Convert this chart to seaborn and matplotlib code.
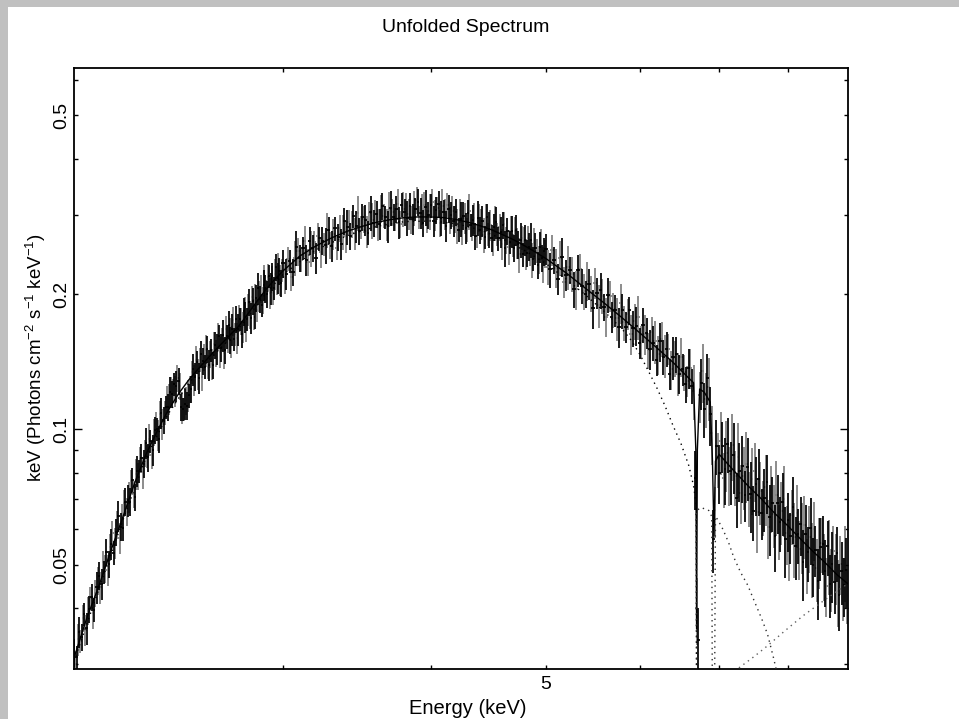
import numpy as np
import pandas as pd
import matplotlib
matplotlib.use("Agg")
import matplotlib.pyplot as plt
import seaborn as sns
from matplotlib.patches import Rectangle
from matplotlib.ticker import FixedLocator, NullFormatter, FuncFormatter

# ---------------- data ----------------
# spectrum 1 (black), three energy ranges
energy_a = [2.00, 2.01, 2.02, 2.03, 2.04, 2.05, 2.06, 2.07, 2.08, 2.09,
            2.10, 2.11, 2.12, 2.13, 2.14, 2.15, 2.16, 2.17, 2.18, 2.19,
            2.20, 2.21, 2.22, 2.23, 2.24, 2.25, 2.26, 2.27, 2.28, 2.29,
            2.30, 2.31, 2.32, 2.33, 2.34, 2.35, 2.36, 2.37, 2.38, 2.39,
            2.40, 2.41, 2.42, 2.43, 2.44, 2.45, 2.46, 2.47, 2.48, 2.49,
            2.50, 2.51, 2.52, 2.53, 2.54, 2.55, 2.56, 2.57, 2.58, 2.59,
            2.60, 2.61, 2.62, 2.63, 2.64, 2.65, 2.66, 2.67, 2.68, 2.69,
            2.70, 2.71, 2.72, 2.73, 2.74, 2.75, 2.76, 2.77, 2.78, 2.79,
            2.80, 2.81, 2.82, 2.83, 2.84, 2.85, 2.86, 2.87, 2.88, 2.89,
            2.90, 2.91, 2.92, 2.93, 2.94, 2.95, 2.96, 2.97, 2.98, 2.99]
flux_a = [.0319, .0311, .0355, .0345, .0388, .0361, .0398, .0424, .0397, .0445,
          .0473, .0454, .0481, .0534, .0501, .0556, .0532, .0592, .0642, .0608,
          .0602, .0691, .0695, .0691, .0773, .0707, .0808, .0808, .0865, .0839,
          .0933, .0866, .0942, .0899, .0997, .100, .0951, .109, .105, .112,
          .112, .121, .120, .126, .125, .128, .112, .111, .114, .113,
          .119, .123, .136, .131, .141, .130, .147, .142, .138, .151,
          .139, .150, .139, .154, .151, .161, .152, .162, .150, .161,
          .171, .158, .167, .159, .176, .167, .176, .163, .183, .178,
          .176, .192, .177, .193, .178, .196, .206, .195, .189, .210,
          .206, .200, .219, .206, .219, .206, .230, .217, .225, .212]
err_a = [7, 6, 8, 7, 6, 8, 7, 7, 6, 8, 7, 8, 6, 7, 7, 8, 6, 7, 8, 7,
         6, 7, 8, 7, 6, 7, 8, 6, 7, 7, 8, 7, 6, 8, 7, 6, 7, 8, 7, 6,
         7, 8, 7, 6, 8, 7, 7, 6, 8, 7, 6, 7, 8, 7, 6, 8, 7, 7, 6, 7,
         8, 6, 7, 7, 8, 6, 7, 8, 7, 6, 7, 7, 8, 6, 7, 8, 6, 7, 7, 8,
         6, 7, 8, 7, 6, 7, 8, 7, 6, 8, 7, 7, 6, 8, 7, 6, 7, 8, 7, 7]

energy_b = [3.00, 3.02, 3.04, 3.06, 3.08, 3.10, 3.12, 3.14, 3.16, 3.18,
            3.20, 3.22, 3.24, 3.26, 3.28, 3.30, 3.32, 3.34, 3.36, 3.38,
            3.40, 3.42, 3.44, 3.46, 3.48, 3.50, 3.52, 3.54, 3.56, 3.58,
            3.60, 3.62, 3.64, 3.66, 3.68, 3.70, 3.72, 3.74, 3.76, 3.78,
            3.80, 3.82, 3.84, 3.86, 3.88, 3.90, 3.92, 3.94, 3.96, 3.98,
            4.00, 4.02, 4.04, 4.06, 4.08, 4.10, 4.12, 4.14, 4.16, 4.18,
            4.20, 4.22, 4.24, 4.26, 4.28, 4.30, 4.32, 4.34, 4.36, 4.38,
            4.40, 4.42, 4.44, 4.46, 4.48, 4.50, 4.52, 4.54, 4.56, 4.58,
            4.60, 4.62, 4.64, 4.66, 4.68, 4.70, 4.72, 4.74, 4.76, 4.78,
            4.80, 4.82, 4.84, 4.86, 4.88, 4.90, 4.92, 4.94, 4.96, 4.98]
flux_b = [.234, .222, .237, .224, .254, .241, .253, .238, .263, .253,
          .241, .266, .263, .257, .278, .256, .280, .268, .259, .291,
          .282, .269, .298, .283, .276, .297, .293, .274, .304, .288,
          .301, .287, .314, .297, .283, .311, .297, .309, .289, .316,
          .305, .296, .314, .294, .309, .321, .303, .288, .312, .300,
          .315, .291, .308, .317, .296, .305, .284, .310, .300, .291,
          .305, .278, .294, .299, .281, .303, .285, .293, .269, .296,
          .278, .291, .268, .297, .279, .267, .282, .289, .266, .275,
          .285, .253, .276, .261, .276, .253, .278, .258, .264, .245,
          .264, .247, .255, .264, .240, .253, .232, .255, .241, .249]
err_b = [7, 8, 6, 7, 9, 7, 6, 8, 7, 7, 8, 6, 7, 9, 7, 8, 6, 7, 8, 7,
         9, 7, 6, 8, 7, 7, 8, 6, 9, 7, 7, 8, 7, 6, 8, 9, 7, 7, 8, 6,
         7, 9, 7, 8, 6, 7, 8, 7, 9, 7, 6, 8, 7, 7, 9, 6, 8, 7, 7, 8,
         7, 6, 9, 7, 8, 7, 6, 8, 7, 9, 7, 8, 6, 7, 9, 7, 7, 8, 6, 8,
         7, 9, 7, 6, 8, 7, 8, 7, 9, 6, 8, 7, 7, 9, 6, 8, 7, 8, 7, 7]

energy_c = [5.00, 5.04, 5.08, 5.12, 5.16, 5.20, 5.24, 5.28, 5.32, 5.36,
            5.40, 5.44, 5.48, 5.52, 5.56, 5.60, 5.64, 5.68, 5.72, 5.76,
            5.80, 5.84, 5.88, 5.92, 5.96, 6.00, 6.04, 6.08, 6.12, 6.16,
            6.20, 6.24, 6.28, 6.32, 6.36, 6.40, 6.44, 6.48, 6.52, 6.56,
            6.60, 6.64, 6.68, 6.72, 6.76, 6.80, 6.84, 6.88, 6.92, 6.96,
            7.00, 7.04, 7.08, 7.12, 7.16, 7.20, 7.24, 7.28, 7.32, 7.36,
            7.40, 7.44, 7.48, 7.52, 7.56, 7.60, 7.64, 7.68, 7.72, 7.76,
            7.80, 7.84, 7.88, 7.92, 7.96, 8.00, 8.04, 8.08, 8.12, 8.16,
            8.20, 8.24, 8.28, 8.32, 8.36, 8.40, 8.44, 8.48, 8.52, 8.56,
            8.60, 8.64, 8.68, 8.72, 8.76, 8.80, 8.84, 8.88, 8.92, 8.96]
flux_c = [.252, .227, .238, .216, .242, .221, .226, .205, .226, .209,
          .200, .211, .186, .201, .204, .187, .199, .178, .184, .169,
          .184, .169, .184, .168, .170, .156, .171, .164, .151, .156,
          .143, .157, .145, .151, .133, .145, .147, .133, .136, .126,
          .137, .125, .078, .034, .127, .111, .130, .108, .057, .092,
          .0801, .0918, .0818, .0930, .0808, .0875, .0702, .0810, .0828, .0716,
          .0825, .0718, .0657, .0756, .0774, .0651, .0704, .0762, .0637, .0686,
          .0579, .0687, .0621, .0689, .0569, .0628, .0578, .0671, .0551, .0584,
          .0616, .0507, .0584, .0533, .0602, .0498, .0540, .0460, .0548, .0557,
          .0485, .0549, .0454, .0502, .0457, .0532, .0428, .0484, .0451, .0487]
err_c = [8, 9, 7, 8, 10, 8, 7, 9, 8, 9, 7, 8, 10, 8, 9, 7, 9, 8, 8, 10,
         9, 8, 7, 9, 10, 8, 9, 8, 10, 9, 8, 10, 9, 9, 8, 11, 9, 10, 8, 9,
         10, 9, 15, 18, 13, 14, 13, 15, 16, 14,
         15, 13, 17, 14, 16, 18, 14, 15, 17, 13, 16, 18, 14, 15, 17, 13, 16, 15, 18, 14,
         17, 15, 14, 16, 18, 15, 13, 17, 16, 14, 15, 18, 16, 14, 17, 15, 13, 18, 16, 15,
         17, 14, 16, 18, 15, 14, 17, 16, 15, 18]

# spectrum 2 (grey), interleaved bins
energy_a2 = [2.005, 2.015, 2.025, 2.035, 2.045, 2.055, 2.065, 2.075, 2.085, 2.095,
             2.105, 2.115, 2.125, 2.135, 2.145, 2.155, 2.165, 2.175, 2.185, 2.195,
             2.205, 2.215, 2.225, 2.235, 2.245, 2.255, 2.265, 2.275, 2.285, 2.295,
             2.305, 2.315, 2.325, 2.335, 2.345, 2.355, 2.365, 2.375, 2.385, 2.395,
             2.405, 2.415, 2.425, 2.435, 2.445, 2.455, 2.465, 2.475, 2.485, 2.495,
             2.505, 2.515, 2.525, 2.535, 2.545, 2.555, 2.565, 2.575, 2.585, 2.595,
             2.605, 2.615, 2.625, 2.635, 2.645, 2.655, 2.665, 2.675, 2.685, 2.695,
             2.705, 2.715, 2.725, 2.735, 2.745, 2.755, 2.765, 2.775, 2.785, 2.795,
             2.805, 2.815, 2.825, 2.835, 2.845, 2.855, 2.865, 2.875, 2.885, 2.895,
             2.905, 2.915, 2.925, 2.935, 2.945, 2.955, 2.965, 2.975, 2.985, 2.995]
flux_a2 = [.0301, .0341, .0338, .0381, .0358, .0395, .0421, .0390, .0433, .0461,
           .0445, .0506, .0490, .0487, .0547, .0589, .0559, .0614, .0573, .0643,
           .0685, .0656, .0707, .0767, .0718, .0795, .0788, .0861, .0802, .0885,
           .0873, .0950, .0879, .0986, .103, .0971, .108, .103, .109, .117,
           .117, .122, .122, .122, .130, .125, .112, .111, .116, .119,
           .123, .134, .129, .143, .133, .143, .131, .145, .150, .138,
           .147, .140, .155, .148, .161, .149, .159, .148, .167, .159,
           .167, .157, .175, .163, .160, .177, .174, .169, .186, .168,
           .185, .180, .197, .181, .197, .184, .198, .206, .194, .215,
           .203, .218, .201, .216, .201, .222, .214, .231, .215, .226]
err_a2 = [7, 8, 6, 7, 8, 7, 6, 8, 7, 7, 8, 6, 7, 8, 7, 6, 8, 7, 8, 6,
          7, 7, 8, 6, 7, 8, 7, 6, 8, 7, 6, 8, 7, 7, 6, 8, 7, 8, 6, 7,
          8, 7, 6, 8, 7, 7, 8, 6, 7, 8, 7, 6, 8, 7, 8, 6, 7, 7, 8, 6,
          7, 8, 6, 7, 7, 8, 6, 8, 7, 7, 6, 8, 7, 6, 8, 7, 7, 8, 6, 7,
          8, 7, 6, 8, 7, 6, 8, 7, 7, 8, 6, 7, 8, 7, 6, 8, 7, 7, 8, 6]

energy_b2 = [3.01, 3.03, 3.05, 3.07, 3.09, 3.11, 3.13, 3.15, 3.17, 3.19,
             3.21, 3.23, 3.25, 3.27, 3.29, 3.31, 3.33, 3.35, 3.37, 3.39,
             3.41, 3.43, 3.45, 3.47, 3.49, 3.51, 3.53, 3.55, 3.57, 3.59,
             3.61, 3.63, 3.65, 3.67, 3.69, 3.71, 3.73, 3.75, 3.77, 3.79,
             3.81, 3.83, 3.85, 3.87, 3.89, 3.91, 3.93, 3.95, 3.97, 3.99,
             4.01, 4.03, 4.05, 4.07, 4.09, 4.11, 4.13, 4.15, 4.17, 4.19,
             4.21, 4.23, 4.25, 4.27, 4.29, 4.31, 4.33, 4.35, 4.37, 4.39,
             4.41, 4.43, 4.45, 4.47, 4.49, 4.51, 4.53, 4.55, 4.57, 4.59,
             4.61, 4.63, 4.65, 4.67, 4.69, 4.71, 4.73, 4.75, 4.77, 4.79,
             4.81, 4.83, 4.85, 4.87, 4.89, 4.91, 4.93, 4.95, 4.97, 4.99]
flux_b2 = [.218, .240, .218, .241, .249, .238, .263, .236, .253, .261,
           .269, .248, .258, .278, .257, .272, .253, .281, .275, .269,
           .290, .286, .273, .303, .282, .294, .276, .303, .292, .302,
           .286, .310, .299, .286, .310, .305, .294, .318, .286, .310,
           .317, .302, .293, .311, .324, .297, .309, .315, .291, .306,
           .321, .300, .311, .288, .314, .302, .316, .292, .306, .294,
           .284, .307, .277, .296, .278, .306, .282, .296, .269, .296,
           .287, .271, .296, .272, .285, .261, .288, .272, .282, .259,
           .287, .264, .255, .277, .257, .277, .260, .245, .267, .263,
           .246, .267, .248, .239, .260, .250, .239, .259, .233, .246]
err_b2 = [8, 6, 7, 9, 7, 6, 8, 7, 9, 6, 7, 8, 6, 9, 7, 8, 6, 7, 9, 8,
          6, 7, 8, 9, 6, 7, 8, 6, 9, 7, 8, 7, 6, 8, 9, 7, 6, 8, 7, 9,
          6, 8, 7, 9, 7, 6, 8, 7, 6, 9, 7, 8, 6, 7, 9, 8, 6, 7, 8, 7,
          9, 6, 7, 8, 6, 9, 7, 8, 6, 7, 8, 9, 7, 6, 8, 7, 9, 6, 7, 8,
          6, 7, 9, 8, 6, 7, 8, 9, 6, 7, 8, 6, 7, 9, 8, 6, 7, 8, 9, 7]

energy_c2 = [5.02, 5.06, 5.10, 5.14, 5.18, 5.22, 5.26, 5.30, 5.34, 5.38,
             5.42, 5.46, 5.50, 5.54, 5.58, 5.62, 5.66, 5.70, 5.74, 5.78,
             5.82, 5.86, 5.90, 5.94, 5.98, 6.02, 6.06, 6.10, 6.14, 6.18,
             6.22, 6.26, 6.30, 6.34, 6.38, 6.42, 6.46, 6.50, 6.54, 6.58,
             6.62, 6.66, 6.70, 6.74, 6.78, 6.82, 6.86, 6.90, 6.94, 6.98,
             7.02, 7.06, 7.10, 7.14, 7.18, 7.22, 7.26, 7.30, 7.34, 7.38,
             7.42, 7.46, 7.50, 7.54, 7.58, 7.62, 7.66, 7.70, 7.74, 7.78,
             7.82, 7.86, 7.90, 7.94, 7.98, 8.02, 8.06, 8.10, 8.14, 8.18,
             8.22, 8.26, 8.30, 8.34, 8.38, 8.42, 8.46, 8.50, 8.54, 8.58,
             8.62, 8.66, 8.70, 8.74, 8.78, 8.82, 8.86, 8.90, 8.94, 8.98]
flux_c2 = [.230, .251, .229, .241, .213, .230, .222, .205, .228, .203,
           .214, .201, .212, .189, .198, .178, .198, .185, .177, .191,
           .173, .181, .163, .174, .178, .157, .163, .150, .165, .157,
           .147, .159, .146, .151, .136, .144, .133, .145, .134, .128,
           .137, .122, .040, .119, .135, .117, .124, .098, .066, .086,
           .0942, .0779, .0886, .0796, .0923, .0786, .0870, .0723, .0789, .0838,
           .0705, .0777, .0810, .0655, .0731, .0672, .0745, .0605, .0710, .0647,
           .0715, .0597, .0659, .0701, .0587, .0555, .0644, .0576, .0650, .0543,
           .0581, .0614, .0500, .0576, .0520, .0599, .0492, .0539, .0558, .0501,
           .0449, .0529, .0468, .0536, .0495, .0437, .0503, .0446, .0511, .0428]
err_c2 = [9, 8, 10, 9, 8, 11, 9, 10, 8, 9, 10, 9, 8, 11, 9, 10, 8, 9, 11, 10,
          9, 8, 10, 9, 11, 8, 10, 9, 8, 11, 10, 9, 11, 8, 10, 9, 11, 10, 9, 8,
          10, 14, 17, 13, 15, 14, 16, 15, 13, 14,
          16, 14, 18, 15, 17, 14, 19, 15, 16, 18, 14, 17, 15, 19, 16, 14, 18, 15, 17, 16,
          19, 14, 16, 18, 15, 17, 14, 19, 16, 15, 18, 16, 14, 17, 19, 15, 16, 18, 14, 17,
          15, 19, 16, 14, 18, 17, 15, 16, 19, 14]

# total model (solid line)
model_E = [2.00, 2.05, 2.10, 2.15, 2.20, 2.25, 2.30, 2.35, 2.40, 2.45,
           2.50, 2.55, 2.60, 2.65, 2.70, 2.75, 2.80, 2.85, 2.90, 2.95,
           3.00, 3.10, 3.20, 3.30, 3.40, 3.50, 3.60, 3.70, 3.80, 3.90,
           4.00, 4.10, 4.20, 4.30, 4.40, 4.50, 4.60, 4.70, 4.80, 4.90,
           5.00, 5.20, 5.40, 5.60, 5.80, 6.00, 6.20, 6.40, 6.60, 6.66,
           6.69, 6.70, 6.71, 6.74, 6.80, 6.88, 6.91, 6.93, 6.95, 7.00,
           7.20, 7.40, 7.60, 7.80, 8.00, 8.20, 8.40, 8.60, 8.80, 9.00]
model_F = [.031, .038, .045, .054, .064, .076, .088, .099, .110, .120,
           .129, .137, .145, .153, .161, .169, .180, .192, .204, .215,
           .225, .243, .256, .267, .276, .283, .289, .293, .296, .297,
           .297, .296, .293, .289, .284, .278, .271, .264, .256, .248,
           .240, .223, .206, .191, .177, .164, .152, .141, .130, .127,
           .090, .036, .090, .123, .121, .115, .085, .058, .085, .088,
           .081, .075, .070, .065, .061, .057, .0535, .0505, .0475, .0452]

# model components (dotted)
comp1_E = [2.00, 2.10, 2.20, 2.30, 2.40, 2.50, 2.60, 2.70, 2.80, 2.90,
           3.00, 3.20, 3.40, 3.60, 3.80, 4.00, 4.20, 4.40, 4.60, 4.80,
           5.00, 5.20, 5.40, 5.60, 5.80, 5.90, 6.00, 6.10, 6.20, 6.30,
           6.40, 6.50, 6.60, 6.66, 6.695, 6.70]
comp1_F = [.0305, .0443, .0630, .0866, .108, .127, .143, .158, .177, .200,
           .221, .251, .270, .283, .290, .291, .287, .278, .265, .250,
           .234, .216, .199, .183, .167, .158, .147, .135, .124, .113,
           .102, .093, .083, .075, .068, .020]
comp2_E = [6.699, 6.70, 6.76, 6.86, 6.90, 6.91, 6.935, 6.95, 6.98, 7.05,
           7.13, 7.20, 7.30, 7.40, 7.48, 7.60, 7.69, 7.78, 7.85]
comp2_F = [.020, .066, .067, .066, .064, .020, .020, .064, .063, .060,
           .056, .052, .048, .045, .042, .038, .035, .031, .028]
comp3_E = [7.00, 7.24, 7.50, 7.70, 7.94, 8.24, 8.62, 9.00]
comp3_F = [.0280, .0292, .0313, .0331, .0355, .0385, .0420, .0455]

# ---------------- figure ----------------
sns.set_style("ticks")
plt.rcParams["font.family"] = ["Liberation Sans", "DejaVu Sans"]
plt.rcParams["mathtext.fontset"] = "custom"
plt.rcParams["mathtext.rm"] = "Liberation Sans"
plt.rcParams["mathtext.it"] = "Liberation Sans:italic"
plt.rcParams["text.color"] = "black"
plt.rcParams["xtick.color"] = "black"
plt.rcParams["ytick.color"] = "black"

W, H = 959, 719
fig = plt.figure(figsize=(W / 100, H / 100), dpi=100)
fig.patch.set_facecolor("white")
fig.add_artist(Rectangle((0, 0), 8 / W, 1, transform=fig.transFigure,
                         facecolor="#c0c0c0", edgecolor="none", zorder=-5))
fig.add_artist(Rectangle((0, 1 - 7 / H), 1, 7 / H, transform=fig.transFigure,
                         facecolor="#c0c0c0", edgecolor="none", zorder=-5))

ax = fig.add_axes([74 / W, 1 - 669 / H, (848 - 74) / W, (669 - 68) / H])
ax.set_xscale("log")
ax.set_yscale("log")


def frame(en, fl, er):
    en = np.array(en)
    fl = np.array(fl)
    r = np.array(er) / 100.0
    return pd.DataFrame({"E": en, "F": fl, "lo": fl * (1 - r), "hi": fl * (1 + r),
                         "hw": np.gradient(en) / 2.0})


spec1 = pd.concat([frame(energy_a, flux_a, err_a),
                   frame(energy_b, flux_b, err_b),
                   frame(energy_c, flux_c, err_c)])
spec2 = pd.concat([frame(energy_a2, flux_a2, err_a2),
                   frame(energy_b2, flux_b2, err_b2),
                   frame(energy_c2, flux_c2, err_c2)])
for d, col in [(spec2, "#7f7f7f"), (spec1, "black")]:
    ax.vlines(d.E, d.lo, d.hi, color=col, lw=1.25, zorder=2)
    ax.hlines(d.F, d.E - d.hw, d.E + d.hw, color=col, lw=1.25, zorder=2)

sns.lineplot(x=model_E, y=model_F, ax=ax, color="black", lw=1.0,
             estimator=None, sort=False, zorder=3)
sns.lineplot(x=comp1_E, y=comp1_F, ax=ax, color="black", lw=1.0,
             linestyle=(0, (1, 3)), estimator=None, sort=False, zorder=3)
sns.lineplot(x=comp2_E, y=comp2_F, ax=ax, color="#303030", lw=1.0,
             linestyle=(0, (1, 3)), estimator=None, sort=False, zorder=3)
sns.lineplot(x=comp3_E, y=comp3_F, ax=ax, color="#606060", lw=1.0,
             linestyle=(0, (1, 3)), estimator=None, sort=False, zorder=3)

ax.set_xlim(2.0, 8.99)
ax.set_ylim(0.0293, 0.637)

ax.xaxis.set_major_locator(FixedLocator([5]))
ax.xaxis.set_major_formatter(FuncFormatter(lambda v, p: "5"))
ax.xaxis.set_minor_locator(FixedLocator([3, 4, 6, 7, 8]))
ax.xaxis.set_minor_formatter(NullFormatter())
ax.yaxis.set_major_locator(FixedLocator([0.1]))
ax.yaxis.set_major_formatter(FuncFormatter(lambda v, p: "0.1"))
ax.yaxis.set_minor_locator(FixedLocator([0.03, 0.04, 0.05, 0.06, 0.07, 0.08,
                                         0.09, 0.2, 0.3, 0.4, 0.5, 0.6]))
lab = {0.05: "0.05", 0.2: "0.2", 0.5: "0.5"}
ax.yaxis.set_minor_formatter(FuncFormatter(lambda v, p: lab.get(round(v, 3), "")))

ax.tick_params(which="both", direction="in", top=True, right=True,
               width=1.0, color="black", labelcolor="black", labelsize=14)
ax.tick_params(axis="x", which="both", length=3.0, pad=5)
ax.tick_params(axis="y", which="major", length=6.0)
ax.tick_params(axis="y", which="minor", length=2.7)
ax.tick_params(axis="y", which="both", labelrotation=90, pad=3.0)
for t in ax.get_yticklabels(which="both"):
    t.set_va("center")

for s in ax.spines.values():
    s.set_linewidth(1.3)
    s.set_color("black")

ax.set_xlabel("")
ax.set_ylabel("")
fig.text(466 / W, 1 - 28 / H, "Unfolded Spectrum", ha="center", va="center",
         fontsize=14, color="black")
fig.text(468 / W, 1 - 708 / H, "Energy (keV)", ha="center", va="center",
         fontsize=14.5, color="black")
fig.text(36 / W, 1 - 358 / H,
         r"keV (Photons cm$^{-2}$ s$^{-1}$ keV$^{-1}$)",
         rotation=90, ha="center", va="center", fontsize=13.5, color="black")

fig.savefig("out.png", dpi=100)
